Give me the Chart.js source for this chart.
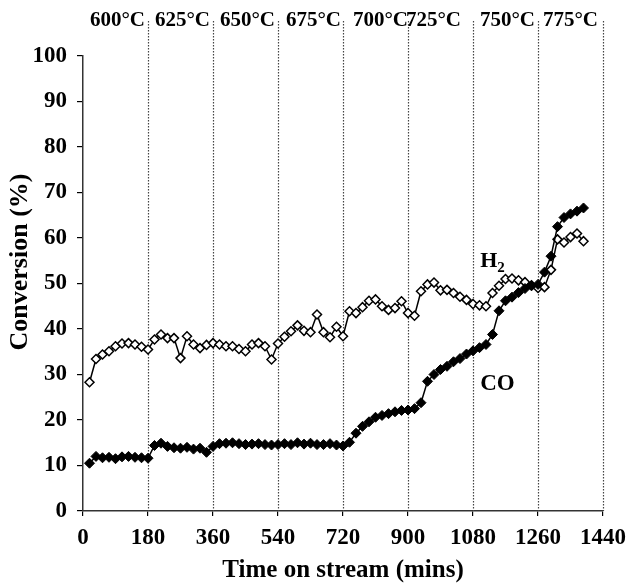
<!DOCTYPE html>
<html><head><meta charset="utf-8">
<script src="https://cdn.jsdelivr.net/npm/chart.js@4.4.0/dist/chart.umd.min.js"></script>
<style>html,body{margin:0;padding:0;background:#fff}#wrap{width:634px;height:586px}</style>
</head><body><div id="wrap"><canvas id="c" width="634" height="586"></canvas></div>
<script>
const timeMins = [18,36,54,72,90,108,126,144,162,180,198,216,234,252,270,288,306,324,342,360,378,396,414,432,450,468,486,504,522,540,558,576,594,612,630,648,666,684,702,720,738,756,774,792,810,828,846,864,882,900,918,936,954,972,990,1008,1026,1044,1062,1080,1098,1116,1134,1152,1170,1188,1206,1224,1242,1260,1278,1296,1314,1332,1350,1368,1386];
const h2Conversion = [28.3,33.4,34.4,35.1,36.2,36.8,36.9,36.6,36.1,35.5,37.7,38.8,38.0,38.0,33.6,38.4,36.6,35.8,36.5,36.9,36.6,36.2,36.2,35.6,35.1,36.6,36.9,36.2,33.3,36.8,38.3,39.5,40.8,39.6,39.3,43.2,39.3,38.2,40.5,38.4,43.9,43.5,44.8,46.2,46.5,45.0,44.2,44.6,46.1,43.5,42.9,48.3,49.8,50.2,48.5,48.6,47.9,47.1,46.4,45.5,45.2,45.0,47.9,49.5,51.0,51.1,50.7,50.3,49.6,49.0,49.2,53.0,59.7,59.0,60.2,61.0,59.3];
const coConversion = [10.5,12.0,11.7,11.8,11.5,11.9,12.0,11.8,11.7,11.6,14.4,14.9,14.2,13.9,13.8,14.0,13.6,13.8,12.9,14.2,14.8,14.9,15.0,14.8,14.6,14.7,14.8,14.6,14.5,14.6,14.8,14.6,15.0,14.7,14.9,14.6,14.6,14.8,14.5,14.3,15.1,17.1,18.6,19.6,20.6,21.0,21.4,21.8,22.1,22.2,22.5,23.8,28.5,30.0,31.1,31.8,32.8,33.5,34.5,35.2,35.9,36.6,38.8,44.0,46.2,47.0,48.0,48.9,49.5,49.8,52.5,56.0,62.5,64.5,65.3,65.9,66.6];
const xTickValues = [0,180,360,540,720,900,1080,1260,1440];
const yTickValues = [0,10,20,30,40,50,60,70,80,90,100];
const stageBoundaries = [0,180,360,540,720,900,1080,1260,1440];
const stageTemps = ['600°C','625°C','650°C','675°C','700°C','725°C','750°C','775°C'];
const seriesNames = ['H2','CO'];
const seriesLabelAnchors = [[1100,53.7],[1100,26.6]];
const yTitleText = 'Conversion (%)';

const FONT = "'Liberation Serif','Times New Roman',serif";
// gap (px) between each temperature label's right edge and the next boundary line
const TEMP_GAPS = [3, 3, 3, 2, 0, 12, 3, 5];

const overlay = {
  id: 'overlay',
  beforeDatasetsDraw(chart) {
    const {ctx, chartArea, scales:{x}} = chart;
    ctx.save();
    ctx.strokeStyle = '#444';
    ctx.lineWidth = 1.2;
    ctx.setLineDash([1.5,1.5]);
    stageBoundaries.slice(1).forEach(v => {
      const px = Math.round(x.getPixelForValue(v)) + 0.5;
      ctx.beginPath();
      ctx.moveTo(px, 21);
      ctx.lineTo(px, chartArea.bottom);
      ctx.stroke();
    });
    ctx.restore();
  },
  afterDraw(chart) {
    const {ctx, chartArea, scales:{x, y}} = chart;
    ctx.save();
    ctx.fillStyle = '#000';
    ctx.textAlign = 'right';
    ctx.textBaseline = 'middle';
    ctx.font = "bold 21px " + FONT;
    stageTemps.forEach((t, i) => {
      ctx.fillText(t, x.getPixelForValue(stageBoundaries[i+1]) - TEMP_GAPS[i], 21);
    });
    // y-axis title
    ctx.save();
    ctx.translate(20, 262);
    ctx.rotate(-Math.PI / 2);
    ctx.textAlign = 'center';
    ctx.textBaseline = 'middle';
    ctx.font = "bold 26px " + FONT;
    ctx.fillText(yTitleText, 0, 0);
    ctx.restore();
    // series labels
    ctx.textAlign = 'left';
    ctx.textBaseline = 'alphabetic';
    ctx.font = "bold 22px " + FONT;
    const hx = x.getPixelForValue(seriesLabelAnchors[0][0]);
    const hy = y.getPixelForValue(seriesLabelAnchors[0][1]);
    ctx.fillText(seriesNames[0].charAt(0), hx, hy);
    const hw = ctx.measureText(seriesNames[0].charAt(0)).width;
    ctx.font = "bold 15px " + FONT;
    ctx.fillText(seriesNames[0].slice(1), hx + hw, hy + 5);
    ctx.font = "bold 23px " + FONT;
    ctx.fillText(seriesNames[1], x.getPixelForValue(seriesLabelAnchors[1][0]), y.getPixelForValue(seriesLabelAnchors[1][1]));
    ctx.restore();
  }
};

new Chart(document.getElementById('c'), {
  type: 'line',
  data: {
    datasets: [
      {
        label: seriesNames[1],
        data: timeMins.map((t, i) => ({x: t, y: coConversion[i]})),
        borderColor: '#000', borderWidth: 1.5,
        pointStyle: 'rectRot', pointRadius: 5, pointBackgroundColor: '#000',
        pointBorderColor: '#000', pointBorderWidth: 1, tension: 0
      },
      {
        label: seriesNames[0],
        data: timeMins.map((t, i) => ({x: t, y: h2Conversion[i]})),
        borderColor: '#000', borderWidth: 1.5,
        pointStyle: 'rectRot', pointRadius: 4.5, pointBackgroundColor: '#fff',
        pointBorderColor: '#000', pointBorderWidth: 1.5, tension: 0
      }
    ]
  },
  options: {
    responsive: false, animation: false, devicePixelRatio: 1,
    layout: { padding: { top: 56, right: 25, bottom: 0, left: 0 } },
    plugins: { legend: { display: false }, tooltip: { enabled: false } },
    scales: {
      x: {
        type: 'linear', min: 0, max: 1440,
        afterBuildTicks: s => { s.ticks = xTickValues.map(v => ({value: v})); },
        afterFit: s => { s.height = 75; },
        grid: { drawOnChartArea: false, drawTicks: true, tickLength: 5, color: '#000', lineWidth: 1.2 },
        border: { color: '#333', width: 1.5 },
        ticks: { color: '#000', font: { family: FONT, size: 23, weight: 'bold' }, padding: 8, maxRotation: 0, callback: v => String(v) },
        title: { display: true, text: 'Time on stream (mins)', color: '#000', font: { family: FONT, size: 25, weight: 'bold' }, padding: { top: 0, bottom: 0 } }
      },
      y: {
        min: 0, max: 100,
        afterBuildTicks: s => { s.ticks = yTickValues.map(v => ({value: v})); },
        afterFit: s => { s.width = 83; },
        grid: { drawOnChartArea: false, drawTicks: true, tickLength: 6, color: '#000', lineWidth: 1.2 },
        border: { color: '#333', width: 1.5 },
        ticks: { color: '#000', font: { family: FONT, size: 23, weight: 'bold' }, padding: 10, callback: v => String(v) },
        title: { display: false }
      }
    }
  },
  plugins: [overlay]
});
</script></body></html>
